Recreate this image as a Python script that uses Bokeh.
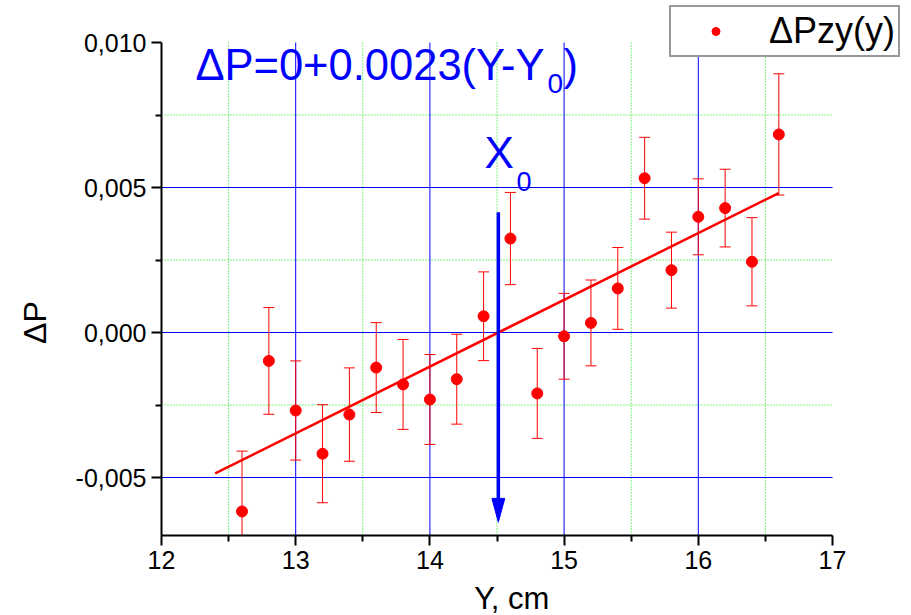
import math
from bokeh.plotting import figure
from bokeh.models import (ColumnDataSource, Label, Legend, LegendItem, FixedTicker,
                          LinearAxis, CustomJSTickFormatter, Range1d)
from bokeh.embed import file_html
from bokeh.resources import INLINE

# ---- data ----
y_pos = [12.6, 12.8, 13.0, 13.2, 13.4, 13.6, 13.8, 14.0, 14.2, 14.4, 14.6,
         14.8, 15.0, 15.2, 15.4, 15.6, 15.8, 16.0, 16.2, 16.4, 16.6]
dp = [-0.00617, -0.00098, -0.00269, -0.00418, -0.00283, -0.00121, -0.00179,
      -0.00231, -0.00161, 0.00056, 0.00324, -0.00210, -0.00013, 0.00033,
      0.00152, 0.00532, 0.00215, 0.00399, 0.00429, 0.00244, 0.00683]
dp_err = [0.00208, 0.00184, 0.00171, 0.00169, 0.00161, 0.00155, 0.00155,
          0.00155, 0.00155, 0.00153, 0.00159, 0.00155, 0.00148, 0.00148,
          0.00141, 0.00141, 0.00131, 0.00131, 0.00134, 0.00152, 0.00209]
fit_x = [12.4, 16.6]
fit_y = [-0.00486, 0.00481]
y0_value = 14.51            # X0, where the fit crosses zero
arrow_top = 0.00415
arrow_tip = -0.00654

X_MIN, X_MAX = 12.0, 17.0
Y_MIN, Y_MAX = -0.007, 0.010
x_major = [12, 13, 14, 15, 16, 17]
x_minor = [12.5, 13.5, 14.5, 15.5, 16.5]
y_major = [-0.005, 0.0, 0.005, 0.010]
y_minor = [-0.0025, 0.0025, 0.0075]
x_grid_major = [13, 14, 15, 16]
y_grid_major = [-0.005, 0.0, 0.005]

FONT = "Liberation Sans"
BLUE = "#0000ff"
GREEN = "#00e600"

# data-space view so that the axes box sits where the reference has it
PX_X = 134.2     # pixels per cm
PX_Y = 29000.0   # pixels per unit of dP
W, H = 911, 615
x_view = (X_MIN - 161 / PX_X, X_MIN - 161 / PX_X + W / PX_X)
y_view = (Y_MAX + 42 / PX_Y - H / PX_Y, Y_MAX + 42 / PX_Y)

lo = [v - e for v, e in zip(dp, dp_err)]
hi = [v + e for v, e in zip(dp, dp_err)]
src = ColumnDataSource(dict(x=y_pos, y=dp,
                            lo=[max(v, Y_MIN) for v in lo],
                            hi=[min(v, Y_MAX) for v in hi]))
cap_lo = ColumnDataSource(dict(x=[a for a, v in zip(y_pos, lo) if v >= Y_MIN],
                               y=[v for v in lo if v >= Y_MIN]))
cap_hi = ColumnDataSource(dict(x=[a for a, v in zip(y_pos, hi) if v <= Y_MAX],
                               y=[v for v in hi if v <= Y_MAX]))

p = figure(width=W, height=H, output_backend="svg", toolbar_location=None,
           x_range=Range1d(*x_view), y_range=Range1d(*y_view),
           x_axis_location=None, y_axis_location=None,
           min_border=0)
p.outline_line_color = None
p.background_fill_color = "white"
p.border_fill_color = "white"
p.xgrid.visible = False
p.ygrid.visible = False

# grid lines (drawn only inside the axes box)
p.segment(x0=x_minor, y0=[Y_MIN] * len(x_minor), x1=x_minor, y1=[Y_MAX] * len(x_minor),
          line_color=GREEN, line_width=1, line_dash="1 2")
p.segment(x0=[X_MIN] * len(y_minor), y0=y_minor, x1=[X_MAX] * len(y_minor), y1=y_minor,
          line_color=GREEN, line_width=1, line_dash="1 2")
p.segment(x0=x_grid_major, y0=[Y_MIN] * 4, x1=x_grid_major, y1=[Y_MAX] * 4,
          line_color=BLUE, line_width=1)
p.segment(x0=[X_MIN] * 3, y0=y_grid_major, x1=[X_MAX] * 3, y1=y_grid_major,
          line_color=BLUE, line_width=1)

# axes at fixed positions
xa = LinearAxis(fixed_location=Y_MIN, bounds=(X_MIN, X_MAX),
                ticker=FixedTicker(ticks=x_major, minor_ticks=x_minor))
ya = LinearAxis(fixed_location=X_MIN, bounds=(Y_MIN, Y_MAX),
                ticker=FixedTicker(ticks=y_major, minor_ticks=y_minor),
                formatter=CustomJSTickFormatter(code="return tick.toFixed(3).replace('.', ',');"))
for ax in (xa, ya):
    ax.axis_line_width = 2
    ax.axis_line_color = "black"
    ax.major_tick_out = 10
    ax.major_tick_in = 0
    ax.minor_tick_out = 6
    ax.minor_tick_in = 0
    ax.major_tick_line_width = 2
    ax.minor_tick_line_width = 2
    ax.major_label_text_font = FONT
    ax.major_label_text_font_size = "25px"
    ax.major_label_text_color = "black"
    ax.major_label_standoff = 5
p.add_layout(xa, "below")
p.add_layout(ya, "left")

# error bars
p.segment(x0="x", y0="lo", x1="x", y1="hi", source=src, line_color="red", line_width=1)
p.scatter(x="x", y="y", source=cap_hi, marker="dash", size=11, line_color="red", line_width=1)
p.scatter(x="x", y="y", source=cap_lo, marker="dash", size=11, line_color="red", line_width=1)

# fit line
p.line(fit_x, fit_y, line_color="red", line_width=2.5)

# points
pts = p.scatter(x="x", y="y", source=src, marker="circle", size=11,
                fill_color="red", line_color="red")

# arrow X0
head_len = 0.00082
head_half = 0.048
p.segment(x0=[y0_value], y0=[arrow_top], x1=[y0_value], y1=[arrow_tip + head_len],
          line_color=BLUE, line_width=3.5)
p.patch([y0_value - head_half, y0_value + head_half, y0_value],
        [arrow_tip + head_len, arrow_tip + head_len, arrow_tip],
        fill_color=BLUE, line_color=BLUE, line_width=1)

# texts
def lab(text, x, y, size, color="black", align="left", baseline="alphabetic", angle=0.0):
    l = Label(x=x, y=y, text=text, text_font=FONT, text_font_size=size,
              text_color=color, text_align=align, text_baseline=baseline, angle=angle)
    p.add_layout(l)
    return l

lab("\u0394P=0+0.0023(Y-Y", 12.253, 0.00921, "43.5px", BLUE)
lab("0", 14.876, 0.00859, "28px", BLUE)
lab(")", 14.996, 0.00921, "43.5px", BLUE)
lab("X", 14.407, 0.00621, "44px", BLUE)
lab("0", 14.645, 0.00519, "27px", BLUE)

# axis titles
lab("\u0394P", 11.054, 0.00034, "32px", "black", align="center", baseline="middle",
    angle=math.pi / 2)
lab("Y, cm", 14.61, -0.00917, "31px", "black", align="center", baseline="middle")

# legend
legend = Legend(items=[LegendItem(label="\u0394Pzy(y)", renderers=[pts])],
                location=(669, 558), orientation="vertical",
                label_text_font=FONT, label_text_font_size="36px",
                label_text_color="black", glyph_width=83, glyph_height=20,
                label_standoff=12, padding=3, margin=0, spacing=0,
                border_line_color="#333333", border_line_width=2,
                background_fill_color="white", background_fill_alpha=1)
p.add_layout(legend)

open("out.html", "w").write(file_html(p, INLINE))
